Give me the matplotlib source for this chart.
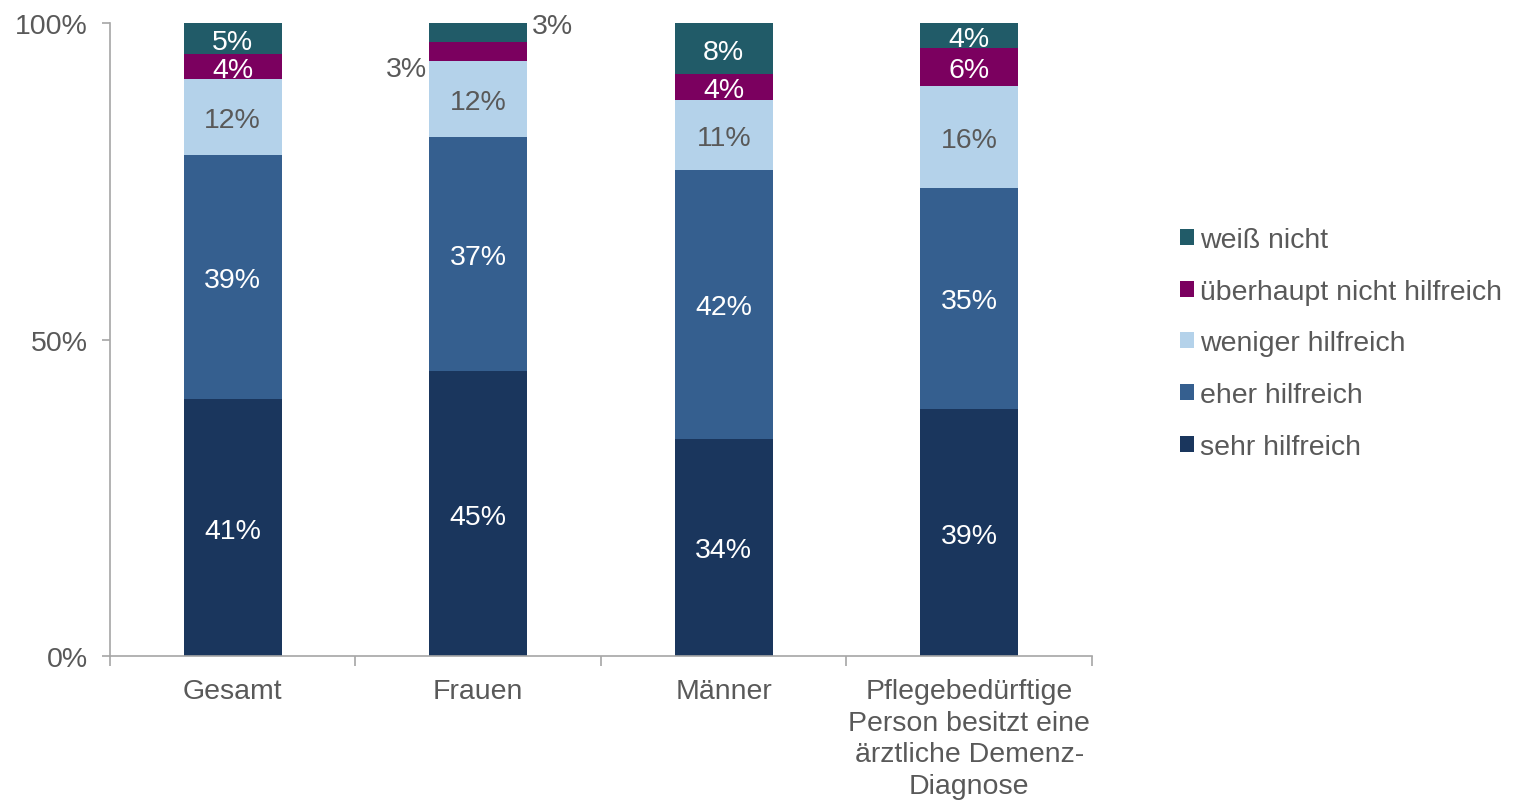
import matplotlib.pyplot as plt
import numpy as np

plt.rcParams['font.family'] = ['Liberation Sans', 'DejaVu Sans']

categories = ['Gesamt', 'Frauen', 'Männer',
              'Pflegebedürftige\nPerson besitzt eine\närztliche Demenz-\nDiagnose']
series = ['sehr hilfreich', 'eher hilfreich', 'weniger hilfreich',
          'überhaupt nicht hilfreich', 'weiß nicht']
sehr = [41, 45, 34, 39]
eher = [39, 37, 42, 35]
weniger = [12, 12, 11, 16]
ueberhaupt = [4, 3, 4, 6]
weiss = [5, 3, 8, 4]

colors = ['#1a365d', '#355f8f', '#b4d2ea', '#7b005f', '#215b68']
label_colors = ['white', 'white', '#595959', 'white', 'white']
gray = '#595959'
fs = 20.5

values = np.array([sehr, eher, weniger, ueberhaupt, weiss], dtype=float)
shares = values / values.sum(axis=0) * 100

fig = plt.figure(figsize=(15.17, 8.03), dpi=100)
ax = fig.add_axes([0.0725, 0.1818, 0.6473, 0.7883])

x = np.arange(len(categories))
bottom = np.zeros(len(categories))
for i, name in enumerate(series):
    ax.bar(x, shares[i], 0.4, bottom=bottom, color=colors[i], label=name)
    for j in range(len(categories)):
        mid = bottom[j] + shares[i][j] / 2
        txt = f'{int(values[i][j])}%'
        if categories[j] == 'Frauen' and i == 4:
            ax.text(x[j] + 0.22, bottom[j] + shares[i][j], txt, ha='left',
                    va='center_baseline', fontsize=fs, color=gray)
        elif categories[j] == 'Frauen' and i == 3:
            ax.text(x[j] - 0.21, mid - 2.3, txt, ha='right',
                    va='center_baseline', fontsize=fs, color=gray)
        else:
            ax.text(x[j], mid, txt, ha='center', va='center_baseline',
                    fontsize=fs, color=label_colors[i])
    bottom += shares[i]

ax.set_xlim(-0.5, len(categories) - 0.5)
ax.set_ylim(0, 100)
ax.set_yticks([0, 50, 100])
ax.set_yticklabels(['0%', '50%', '100%'])
ax.set_xticks(x)
ax.set_xticklabels(categories, linespacing=1.28)
ax.set_xticks(np.arange(-0.5, len(categories)), minor=True)
ax.tick_params(axis='x', which='major', length=0, pad=16, labelsize=fs,
               labelcolor=gray)
ax.tick_params(axis='x', which='minor', length=7, color='#a6a6a6', width=1.2)
ax.tick_params(axis='y', length=6, color='#a6a6a6', width=1.2, pad=10,
               labelsize=fs, labelcolor=gray)
for side in ['top', 'right']:
    ax.spines[side].set_visible(False)
for side in ['left', 'bottom']:
    ax.spines[side].set_color('#a6a6a6')
    ax.spines[side].set_linewidth(1.2)

handles, labels = ax.get_legend_handles_labels()
leg = fig.legend(handles[::-1], labels[::-1], loc='center left',
                 bbox_to_anchor=(0.761, 0.571), frameon=False, fontsize=fs,
                 handlelength=0.5, handleheight=0.5, handletextpad=0.2,
                 labelspacing=0.9, labelcolor=gray)

fig.savefig('out.png', dpi=100)
